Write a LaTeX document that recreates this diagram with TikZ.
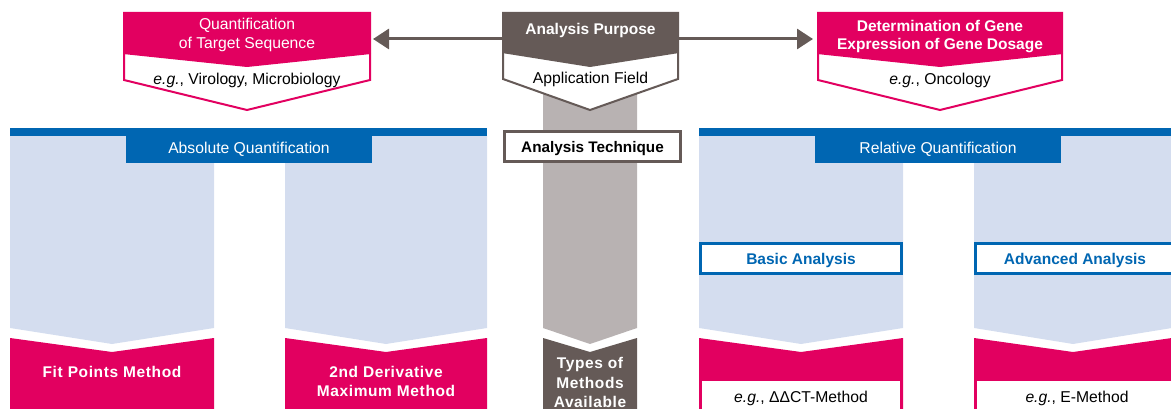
\documentclass[tikz,border=0pt]{standalone}
\usepackage{fontspec}
\setmainfont{Liberation Sans}
\usetikzlibrary{arrows.meta}
\definecolor{rpink}{RGB}{226,0,96}
\definecolor{rblue}{RGB}{0,102,178}
\definecolor{lblue}{RGB}{212,221,239}
\definecolor{dgray}{RGB}{101,90,87}
\definecolor{lgray}{RGB}{184,178,178}
\tikzset{
  txt/.style={inner sep=0pt, outer sep=0pt, text height=11.2pt, text depth=0pt, font=\fontsize{15.7}{18}\selectfont},
  txtb/.style={txt, font=\fontsize{15.5}{18}\selectfont\bfseries},
  txtm/.style={txt, text=white, font=\fontsize{15.5}{18}\selectfont\bfseries\addfontfeature{LetterSpace=4}},
  area/.style={inner sep=0pt, outer sep=0pt, draw=none},
  arr/.style={draw=dgray, line width=3pt, -{Triangle[length=16pt,width=20pt]}},
  bluelbl/.style={area, fill=rblue, minimum width=246, minimum height=35},
  subbox/.style={draw=rblue, line width=2.6pt, fill=white, inner sep=0pt, minimum height=30.4},
}
\begin{document}
\begin{tikzpicture}[x=1pt,y=-1pt]
\useasboundingbox (0,0) rectangle (1171,409);

% central grey band
\fill[lgray] (543,60) -- (637,60) -- (637,328) -- (590,344) -- (543,328) -- cycle;
\fill[dgray] (543,338) -- (590,352) -- (637,338) -- (637,412) -- (543,412) -- cycle;

% columns
\foreach \a/\b in {10/214, 285/487, 699/903, 974/1172} {
  \pgfmathsetmacro\c{(\a+\b)/2}
  \fill[lblue] (\a,136) -- (\b,136) -- (\b,328) -- (\c,344) -- (\a,328) -- cycle;
  \fill[rpink] (\a,338) -- (\c,352) -- (\b,338) -- (\b,412) -- (\a,412) -- cycle;
}
\fill[rblue] (10,128) rectangle (487,136);
\fill[rblue] (699,128) rectangle (1175,136);

% blue labels
\node[bluelbl] (absq) at (249,145.5) {};
\node[txt, text=white] (absqt) at (249,148) {Absolute Quantification};
\node[bluelbl] (relq) at (938,145.5) {};
\node[txt, text=white] (relqt) at (938,148) {Relative Quantification};

% sub boxes
\node[subbox, minimum width=201.4] (basic) at (801,258.5) {};
\node[txtb, text=rblue] (basict) at (801,259) {Basic Analysis};
\node[subbox, minimum width=201.4] (adv) at (1076.1,258.5) {};
\node[txtb, text=rblue] (advt) at (1075,259) {Advanced Analysis};

% white example boxes
\node[area, fill=white, minimum width=198, minimum height=31, anchor=north west] (exa) at (702,381) {};
\node[txt] (exat) at (801,397) {\textit{e.g.}, ΔΔCT-Method};
\node[area, fill=white, minimum width=198, minimum height=31, anchor=north west] (exb) at (977,381) {};
\node[txt] (exbt) at (1077,397) {\textit{e.g.}, E-Method};

% method labels
\node[txtm] (fit) at (112,372) {Fit Points Method};
\node[txtm] (der1) at (386,372) {2nd Derivative};
\node[txtm] (der2) at (386,391) {Maximum Method};
\node[txtm] (typ1) at (590,363) {Types of};
\node[txtm] (typ2) at (590,383) {Methods};
\node[txtm] (typ3) at (590,402) {Available};

% top left box
\filldraw[draw=rpink, line width=2pt, fill=white] (124,54) -- (124,80) -- (247,110) -- (370,80) -- (370,54);
\fill[rpink] (123,12) -- (371,12) -- (371,54) -- (247,67) -- (123,54) -- cycle;
\node[area, minimum width=248, minimum height=54] (qts) at (247,39) {};
\node[txt, text=white] (qts1) at (247,24) {Quantification};
\node[txt, text=white] (qts2) at (247,43) {of Target Sequence};
\node[txt] (qts3) at (247,79) {\textit{e.g.}, Virology, Microbiology};

% top right box
\filldraw[draw=rpink, line width=2pt, fill=white] (818,54) -- (818,80) -- (940,110) -- (1062,80) -- (1062,54);
\fill[rpink] (817,12) -- (1063,12) -- (1063,54) -- (940,67) -- (817,54) -- cycle;
\node[area, minimum width=246, minimum height=54] (gde) at (940,39) {};
\node[txtb, text=white] (gde1) at (940,26) {Determination of Gene};
\node[txtb, text=white] (gde2) at (940,44) {Expression of Gene Dosage};
\node[txt] (gde3) at (940,79) {\textit{e.g.}, Oncology};

% centre box
\filldraw[draw=dgray, line width=2pt, fill=white] (503,53) -- (503,79) -- (590,110) -- (678,79) -- (678,53);
\fill[dgray] (502,12) -- (679,12) -- (679,53) -- (590,67) -- (502,53) -- cycle;
\node[area, minimum width=177, minimum height=54] (purpose) at (590.5,39) {};
\node[txtb, text=white] (purpt) at (590.5,29) {Analysis Purpose};
\node[txt] (appl) at (590.5,78) {Application Field};

% arrows
\draw[arr, shorten >=2pt] (purpose.west) -- (qts.east);
\draw[arr, shorten >=4pt] (purpose.east) -- (gde.west);

% analysis technique
\node[draw=dgray, line width=3pt, fill=white, inner sep=0pt, minimum width=176, minimum height=30] (tech) at (592.5,146.5) {};
\node[txtb, font=\fontsize{15.3}{18}\selectfont\bfseries] (techt) at (592.5,147) {Analysis Technique};
\end{tikzpicture}
\end{document}
